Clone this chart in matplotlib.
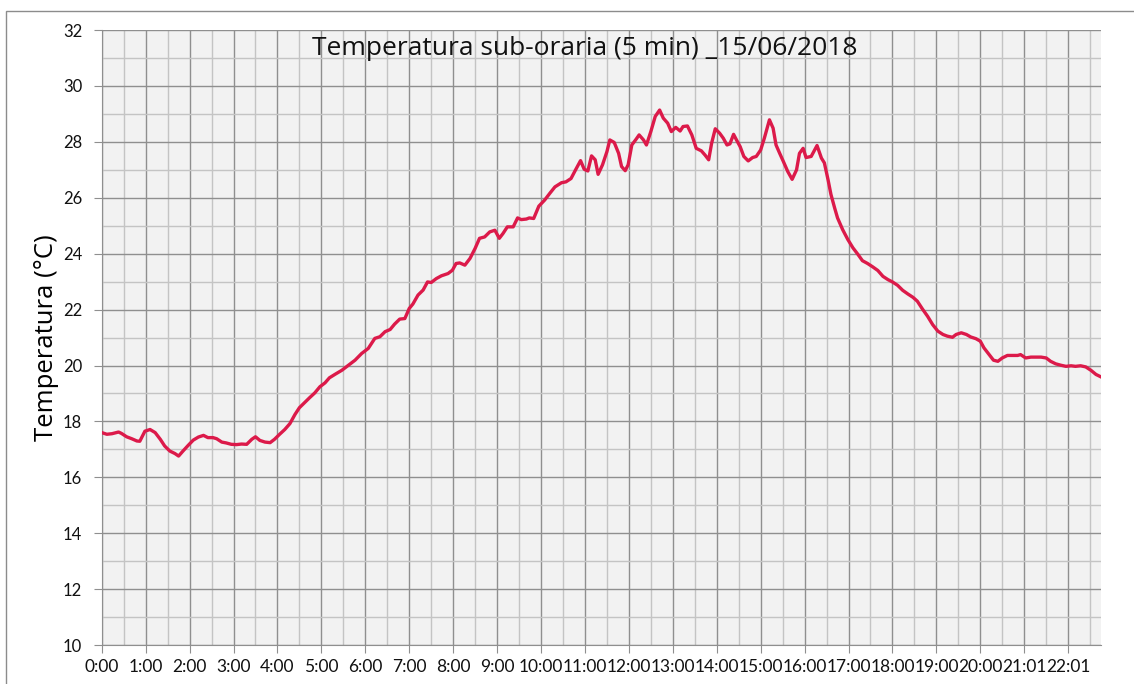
import matplotlib
matplotlib.use("Agg")
import matplotlib.pyplot as plt
from matplotlib.patches import Rectangle
from matplotlib.ticker import MultipleLocator

# minutes after midnight
minutes = [0, 7, 14, 23, 27, 34, 41, 48, 52, 59, 66, 73, 80, 86, 93, 100, 105, 111,
           118, 125, 132, 139, 145, 152, 157, 164, 170, 177, 184, 191, 198, 205, 210,
           216, 223, 230, 236, 243, 250, 257, 264, 270, 277, 284, 291, 298, 305, 311,
           319, 328, 337, 346, 355, 364, 373, 380, 387, 394, 400, 407, 414, 420, 425,
           432, 439, 445, 450, 457, 464, 473, 479, 484, 489, 496, 503, 510, 516, 523,
           530, 537, 543, 548, 554, 562, 568, 573, 580, 584, 590, 597, 605, 612, 619,
           628, 634, 641, 647,
           654, 659, 664, 669, 674, 678, 684, 690, 694, 700, 706, 710, 715, 719, 724,
           730, 734, 740, 744, 750, 756, 762, 767, 773, 778, 784, 790, 794, 800, 806,
           812, 819, 824, 829, 833, 838, 844, 849, 854, 858, 863, 867, 872, 877, 883,
           889, 894, 900, 905, 912, 917, 921, 926, 931, 937, 943, 949, 953, 958, 962,
           969, 977, 983,
           987, 992, 996, 1001, 1005, 1012, 1019, 1026, 1033, 1039, 1046, 1053, 1060,
           1067, 1074, 1080, 1087, 1094, 1101, 1108, 1114, 1121, 1128, 1135, 1142,
           1149, 1155, 1162, 1167, 1174, 1181, 1187, 1194, 1200, 1205, 1212, 1218,
           1224, 1230, 1237, 1244, 1251, 1255, 1262, 1269, 1276, 1283, 1290, 1296,
           1303, 1310, 1317, 1324, 1330, 1337, 1344, 1351, 1358, 1365]
temps = [17.60, 17.54, 17.56, 17.62, 17.57, 17.45, 17.38, 17.30, 17.29, 17.65, 17.71,
         17.60, 17.36, 17.12, 16.94, 16.85, 16.76, 16.94, 17.14, 17.33, 17.44, 17.50,
         17.42, 17.42, 17.38, 17.26, 17.23, 17.18, 17.17, 17.19, 17.18, 17.36, 17.45,
         17.32, 17.26, 17.24, 17.36, 17.54, 17.71, 17.92, 18.25, 18.49, 18.67, 18.85,
         19.02, 19.24, 19.38, 19.56,
         19.69, 19.83, 20.01, 20.19, 20.43, 20.61, 20.97, 21.03, 21.21, 21.29, 21.48,
         21.66, 21.68, 22.04, 22.20, 22.52, 22.70, 22.99, 22.97, 23.11, 23.21, 23.29,
         23.41, 23.65, 23.67, 23.59, 23.83, 24.19, 24.55, 24.60, 24.78, 24.84, 24.55,
         24.72, 24.96, 24.96, 25.28, 25.22, 25.24, 25.28, 25.26, 25.70, 25.92, 26.16,
         26.39, 26.54, 26.57, 26.69, 26.99,
         27.33, 27.02, 26.96, 27.50, 27.36, 26.84, 27.18, 27.65, 28.07, 27.98, 27.59,
         27.12, 26.97, 27.18, 27.89, 28.10, 28.25, 28.07, 27.89, 28.37, 28.91, 29.14,
         28.85, 28.67, 28.37, 28.52, 28.39, 28.55, 28.57, 28.25, 27.77, 27.68, 27.53,
         27.36, 27.95, 28.47, 28.31, 28.13, 27.89, 27.93, 28.27, 28.07, 27.83, 27.48,
         27.32, 27.44, 27.48, 27.71, 28.13, 28.79, 28.49, 27.89, 27.59, 27.30, 26.94,
         26.66, 27.00, 27.59, 27.77, 27.44, 27.48, 27.87, 27.42,
         27.25, 26.65, 26.12, 25.64, 25.28, 24.86, 24.51, 24.21, 23.97, 23.75, 23.65,
         23.53, 23.40, 23.19, 23.07, 22.99, 22.87, 22.69, 22.56, 22.44, 22.30, 22.02,
         21.76, 21.46, 21.23, 21.11, 21.05, 21.01, 21.11, 21.17, 21.11, 21.02, 20.96,
         20.87, 20.63, 20.39, 20.19, 20.15, 20.27, 20.36, 20.36, 20.36, 20.39, 20.27,
         20.30, 20.30, 20.30, 20.27, 20.15, 20.06, 20.01, 19.97, 19.99, 19.97, 19.99,
         19.95, 19.83, 19.68, 19.59]

tick_pos = list(range(0, 1321, 60))
tick_labels = ["0:00", "1:00", "2:00", "3:00", "4:00", "5:00", "6:00", "7:00", "8:00",
               "9:00", "10:00", "11:00", "12:00", "13:00", "14:00", "15:00", "16:00",
               "17:00", "18:00", "19:00", "20:00", "21:01", "22:01"]

fig = plt.figure(figsize=(11.34, 6.84), dpi=100)
fig.patch.set_facecolor("white")
fig.patches.append(Rectangle((6 / 1134, -0.05), 1.1, 1 - 11 / 684 + 0.05,
                             transform=fig.transFigure, fill=False,
                             edgecolor="#8c8c8c", linewidth=1.0))

ax = fig.add_axes([0.0897, 0.057, 0.8813, 0.899])
ax.set_facecolor("#f2f2f2")

ax.plot(minutes, temps, color="#dc1a4a", linewidth=2.4, zorder=3)

ax.set_xlim(0, 1365)
ax.set_ylim(10, 32)
ax.set_xticks(tick_pos)
ax.set_xticklabels(tick_labels)
ax.xaxis.set_minor_locator(MultipleLocator(30))
ax.set_yticks(range(10, 33, 2))
ax.yaxis.set_minor_locator(MultipleLocator(1))

ax.grid(which="major", color="#8f8f8f", linewidth=1.0)
ax.grid(which="minor", color="#c4c4c4", linewidth=1.0)
ax.set_axisbelow(True)

for s in ["top", "right"]:
    ax.spines[s].set_visible(False)
for s in ["left", "bottom"]:
    ax.spines[s].set_color("#8f8f8f")

ax.tick_params(which="major", length=6, color="#8f8f8f", labelcolor="#111111")
ax.tick_params(which="minor", length=0)
ax.tick_params(axis="x", pad=4)
ax.tick_params(axis="y", pad=8)
for lbl in ax.get_xticklabels():
    lbl.set_family("Lato")
    lbl.set_fontsize(12.5)
for lbl in ax.get_yticklabels():
    lbl.set_family("Lato")
    lbl.set_fontsize(12)

ax.set_ylabel("Temperatura (°C)", fontsize=18.5, family="Open Sans", labelpad=3)
ax.text(0.483, 0.99, "Temperatura sub-oraria (5 min) _15/06/2018",
        transform=ax.transAxes, ha="center", va="top", fontsize=19,
        family="Open Sans", color="#111111")

fig.savefig("out.png", dpi=100)
